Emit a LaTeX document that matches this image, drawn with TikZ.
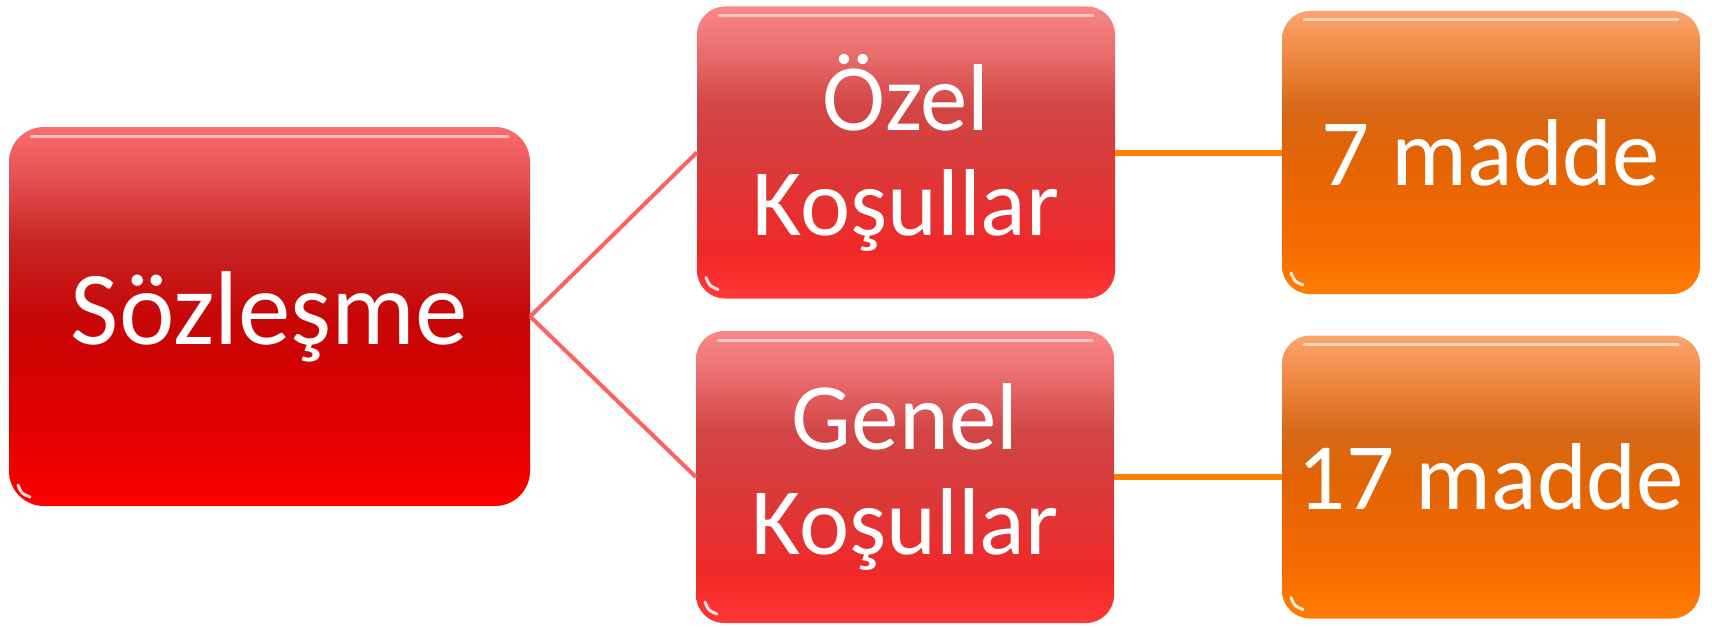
\documentclass[tikz,border=0pt]{standalone}
\usepackage{fontspec}
\setmainfont{Carlito}
\usepackage{tikz}
\usetikzlibrary{positioning}

\definecolor{linkred}{RGB}{255,96,96}
\definecolor{linkorange}{RGB}{255,128,0}
\pgfdeclareverticalshading{rootshade}{100bp}{color(0bp)=(red);
  color(25bp)=(red); color(35bp)=(rgb,255:red,225;green,0;blue,0);
  color(50bp)=(rgb,255:red,198;green,6;blue,6); color(60bp)=(rgb,255:red,200;green,38;blue,38);
  color(69bp)=(rgb,255:red,232;green,84;blue,84); color(75bp)=(rgb,255:red,248;green,110;blue,110);
  color(100bp)=(rgb,255:red,248;green,110;blue,110)}
\pgfdeclareverticalshading{kindshade}{100bp}{color(0bp)=(rgb,255:red,255;green,55;blue,55);
  color(25bp)=(rgb,255:red,255;green,55;blue,55); color(33bp)=(rgb,255:red,240;green,40;blue,40);
  color(50bp)=(rgb,255:red,215;green,60;blue,60); color(58bp)=(rgb,255:red,210;green,70;blue,70);
  color(69bp)=(rgb,255:red,238;green,116;blue,116); color(75bp)=(rgb,255:red,250;green,135;blue,135);
  color(100bp)=(rgb,255:red,250;green,135;blue,135)}
\pgfdeclareverticalshading{countshade}{100bp}{color(0bp)=(rgb,255:red,255;green,125;blue,0);
  color(25bp)=(rgb,255:red,255;green,125;blue,0); color(35bp)=(rgb,255:red,245;green,105;blue,0);
  color(50bp)=(rgb,255:red,225;green,100;blue,5); color(58bp)=(rgb,255:red,215;green,105;blue,25);
  color(68bp)=(rgb,255:red,240;green,140;blue,70); color(75bp)=(rgb,255:red,250;green,165;blue,110);
  color(100bp)=(rgb,255:red,250;green,165;blue,110)}

\tikzset{
  gloss/.style={path picture={
    \draw [white, opacity=0.55, line width=3pt, line cap=round]
      ([xshift=22pt,yshift=-9pt]path picture bounding box.north west) --
      ([xshift=-22pt,yshift=-9pt]path picture bounding box.north east);
    \draw [white, opacity=0.85, line width=3pt, line cap=round]
      ([xshift=9pt,yshift=21pt]path picture bounding box.south west) ..
      controls ([xshift=12.5pt,yshift=12.5pt]path picture bounding box.south west) ..
      ([xshift=21pt,yshift=9pt]path picture bounding box.south west);}},
  box/.style={rectangle, rounded corners=28pt, text=white, align=center,
    inner sep=0pt, gloss},
  rootbox/.style={box, shading=rootshade, rounded corners=35pt,
    minimum width=521pt, minimum height=379pt, font=\fontsize{105}{112}\selectfont},
  kindbox/.style={box, shading=kindshade,
    minimum width=418pt, minimum height=292pt, font=\fontsize{95}{105}\selectfont},
  countbox/.style={box, shading=countshade,
    minimum width=418pt, minimum height=283pt, font=\fontsize{95}{105}\selectfont},
}

\begin{document}
\begin{tikzpicture}[x=1pt,y=-1pt]
\useasboundingbox (0,0) rectangle (1712,626);
% boxes
\node [rootbox] (soz) at (269.5,316.5) {Sözleşme};
\node [kindbox] (ozel) at (906,152.5) {Özel\\Koşullar};
\node [kindbox] (genel) at (905,477) {Genel\\Koşullar};
\node [countbox] (yedi) at (1491,152.5) {7 madde};
\node [countbox] (onyedi) at (1491,477) {17 madde};
% links
\draw [linkred, line width=4pt] (soz.east) -- (ozel.west);
\draw [linkred, line width=4pt] (soz.east) -- (genel.west);
\draw [linkorange, line width=6pt] (ozel.east) -- (yedi.west);
\draw [linkorange, line width=6pt] (genel.east) -- (onyedi.west);
\end{tikzpicture}
\end{document}
